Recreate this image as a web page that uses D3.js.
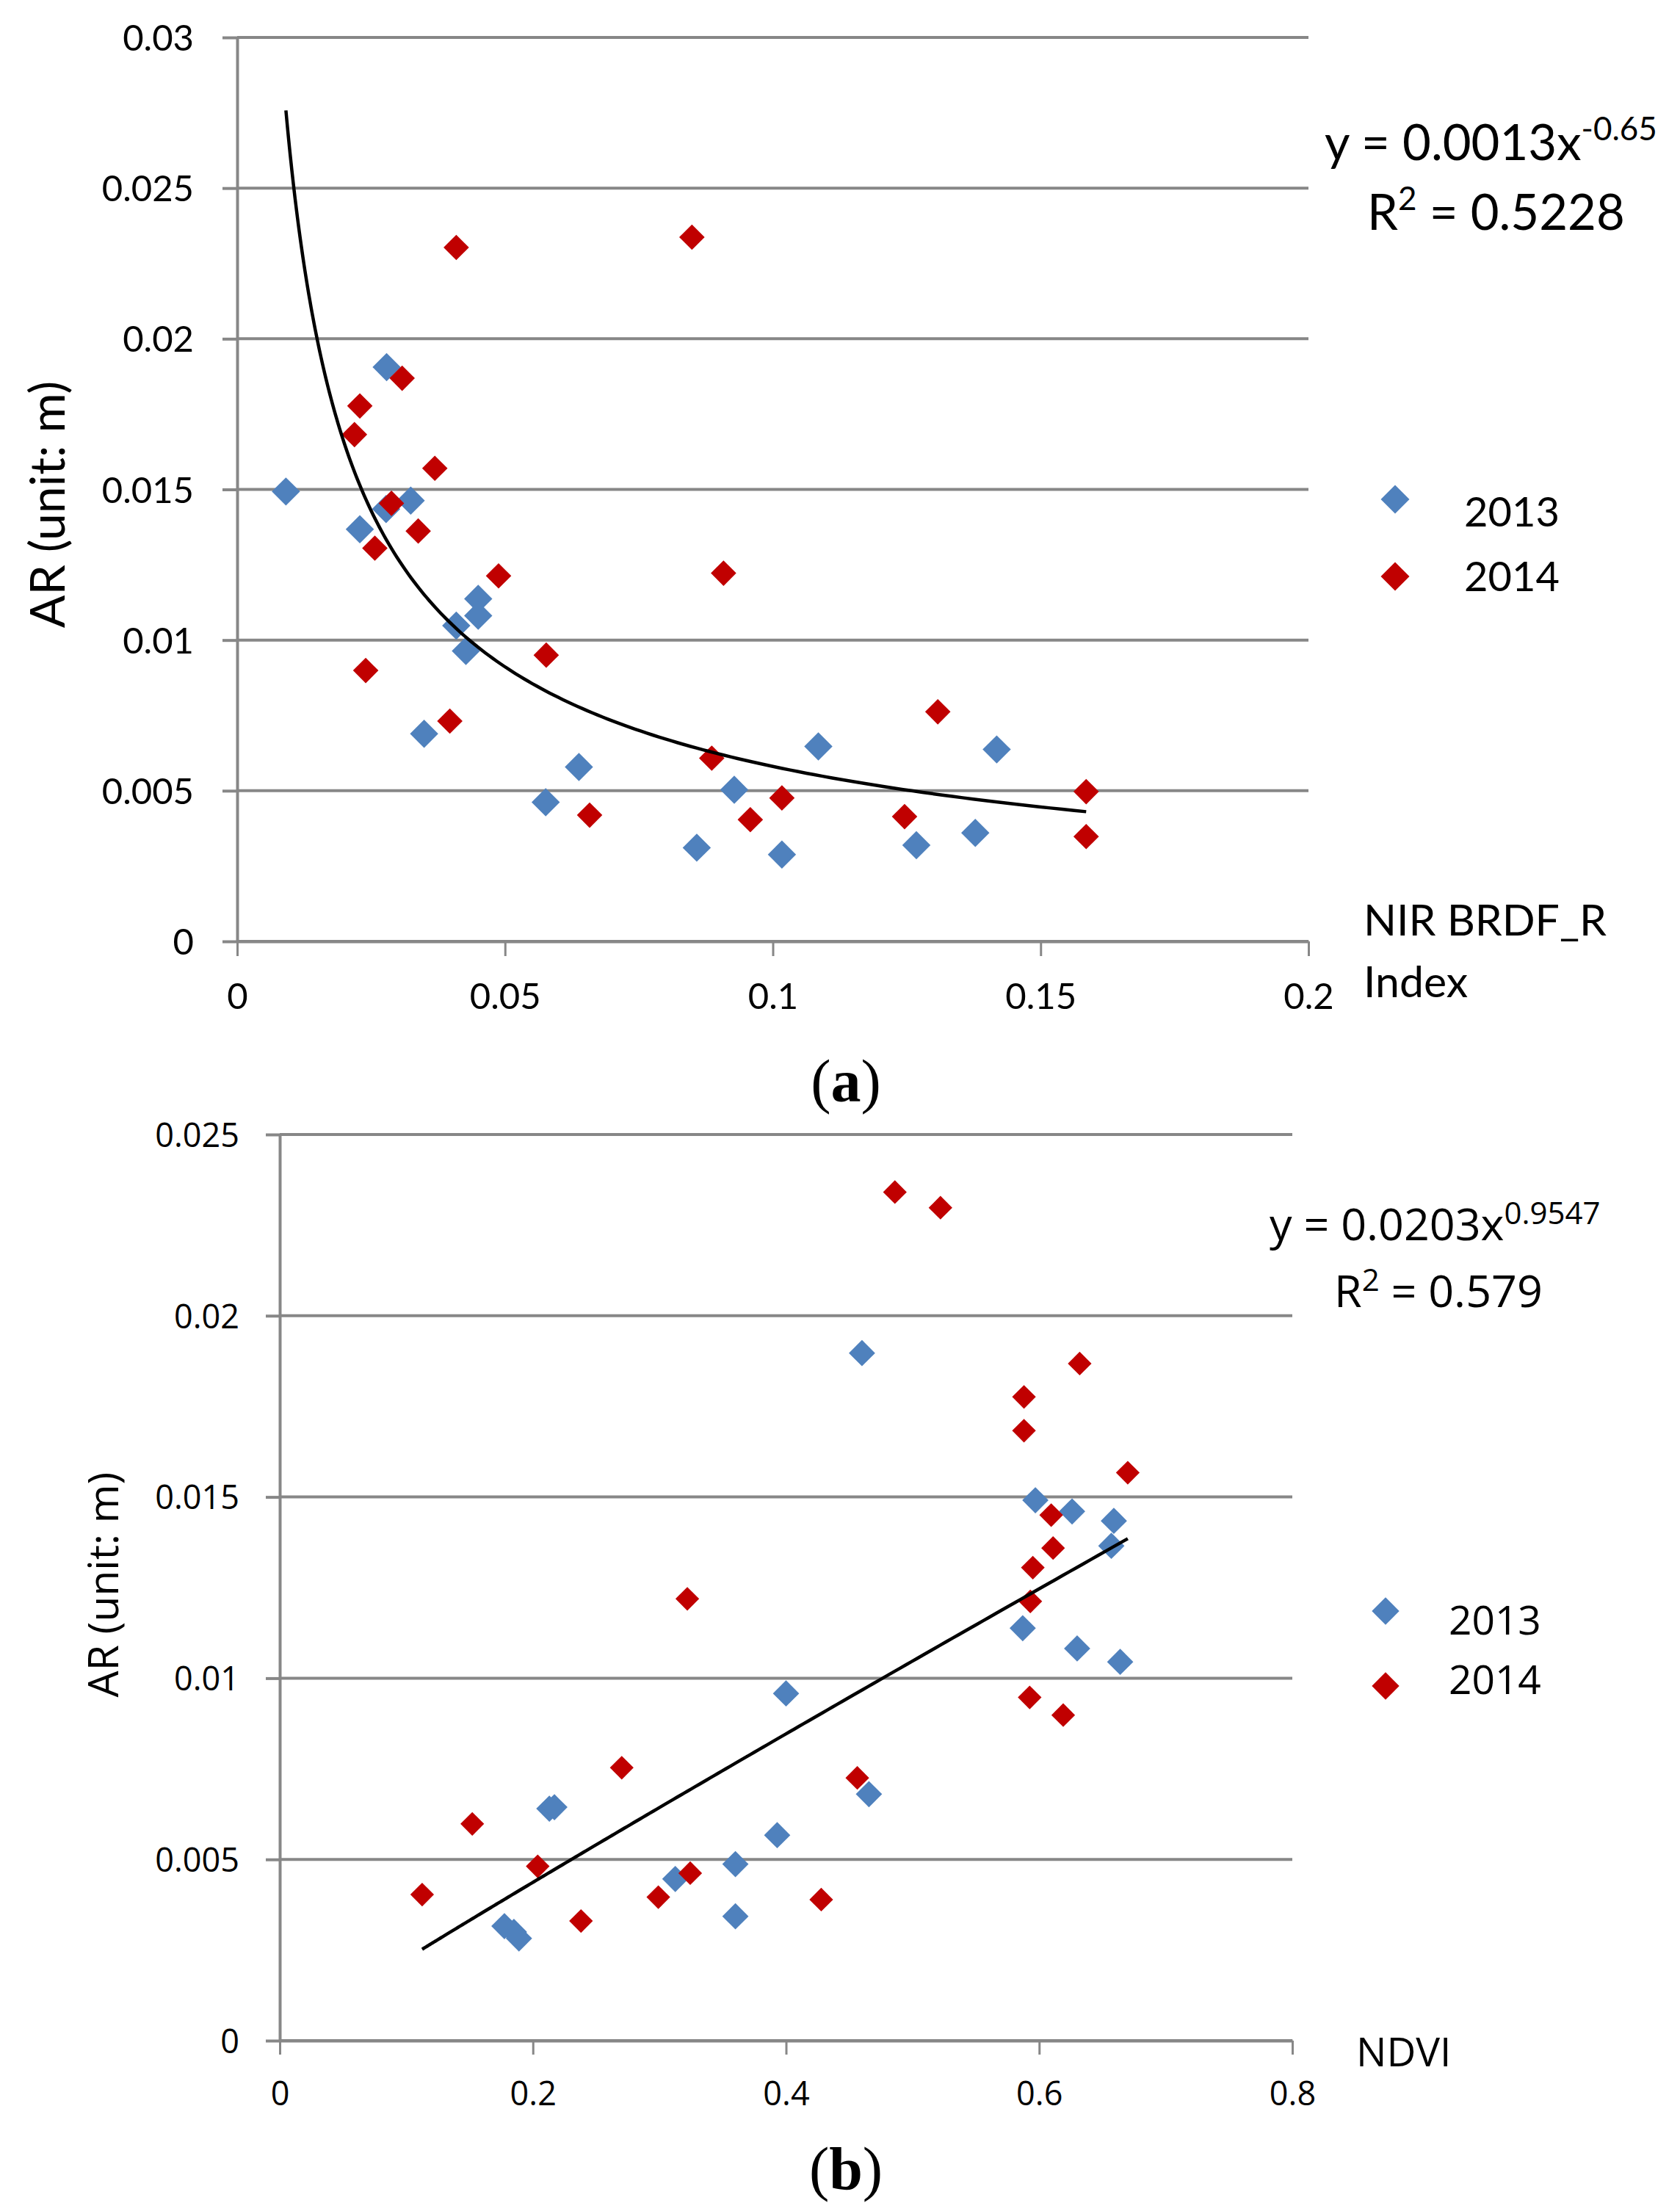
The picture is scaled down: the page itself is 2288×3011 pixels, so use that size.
<!DOCTYPE html>
<html>
<head>
<meta charset="utf-8">
<script src="https://cdn.jsdelivr.net/npm/d3@7"></script>
<style>
  html, body { margin: 0; padding: 0; background: #fff; }
</style>
</head>
<body>
<script>
// ---- data ----
const seriesNames = ['2013', '2014'];

// panel (a): NIR BRDF_R index vs AR
const nir2013 = [
  [0.0091, 0.01493], [0.0279, 0.01906], [0.0229, 0.01368], [0.0278, 0.01435],
  [0.0324, 0.01463], [0.0349, 0.00689], [0.0409, 0.01048], [0.0427, 0.00964],
  [0.0450, 0.01137], [0.0450, 0.01081], [0.0576, 0.00462], [0.0638, 0.00579],
  [0.0858, 0.00311], [0.0928, 0.00503], [0.1017, 0.00288], [0.1085, 0.00647],
  [0.1268, 0.00319], [0.1378, 0.00360], [0.1418, 0.00637]
];
const nir2014 = [
  [0.0409, 0.02303], [0.0849, 0.02337], [0.0308, 0.01869], [0.0229, 0.01777],
  [0.0219, 0.01682], [0.0369, 0.01570], [0.0288, 0.01454], [0.0338, 0.01362],
  [0.0257, 0.01305], [0.0488, 0.01213], [0.0908, 0.01222], [0.0240, 0.00899],
  [0.0577, 0.00950], [0.0397, 0.00731], [0.0886, 0.00608], [0.0658, 0.00419],
  [0.0958, 0.00404], [0.1017, 0.00476], [0.1308, 0.00762], [0.1246, 0.00414],
  [0.1585, 0.00497], [0.1585, 0.00348]
];

// panel (b): NDVI vs AR
const ndvi2013 = [
  [0.460, 0.01897], [0.597, 0.01491], [0.626, 0.01460], [0.659, 0.01434],
  [0.657, 0.01365], [0.587, 0.01138], [0.630, 0.01082], [0.664, 0.01045],
  [0.400, 0.00958], [0.4655, 0.00680], [0.213, 0.00640], [0.217, 0.00644],
  [0.393, 0.00567], [0.360, 0.00487], [0.3125, 0.00446], [0.360, 0.00343],
  [0.1775, 0.00316], [0.185, 0.00300], [0.189, 0.00282]
];
const ndvi2014 = [
  [0.486, 0.02341], [0.522, 0.02298], [0.632, 0.01868], [0.588, 0.01776],
  [0.588, 0.01683], [0.670, 0.01567], [0.6095, 0.01450], [0.611, 0.01359],
  [0.595, 0.01305], [0.593, 0.01212], [0.322, 0.01219], [0.5925, 0.00947],
  [0.619, 0.00898], [0.2702, 0.00753], [0.4563, 0.00725], [0.1521, 0.00598],
  [0.2038, 0.00481], [0.3243, 0.00462], [0.1125, 0.00403], [0.2991, 0.00396],
  [0.4278, 0.00389], [0.238, 0.00330]
];

// power trendlines  y = a * x^b  (as printed on the chart)
const fitA = { a: 0.0013, b: -0.65, eq: 'y = 0.0013x', exp: '-0.65', r2: ' = 0.5228' };
const fitB = { a: 0.0203, b: 0.9547, eq: 'y = 0.0203x', exp: '0.9547', r2: ' = 0.579' };

// axis ticks
const xTicksA = [0, 0.05, 0.1, 0.15, 0.2];
const xLabelsA = ['0', '0.05', '0.1', '0.15', '0.2'];
const yTicksA = [0, 0.005, 0.01, 0.015, 0.02, 0.025, 0.03];
const yLabelsA = ['0', '0.005', '0.01', '0.015', '0.02', '0.025', '0.03'];
const xTicksB = [0, 0.2, 0.4, 0.6, 0.8];
const xLabelsB = ['0', '0.2', '0.4', '0.6', '0.8'];
const yTicksB = [0, 0.005, 0.01, 0.015, 0.02, 0.025];
const yLabelsB = ['0', '0.005', '0.01', '0.015', '0.02', '0.025'];

// ---- styles ----
const BLUE = '#4f81bd';
const RED = '#c00000';
const GRID = '#878787';

const svg = d3.select('body')
  .append('svg')
  .attr('width', 2288)
  .attr('height', 3011)
  .style('display', 'block');

svg.append('rect')
  .attr('width', 2288)
  .attr('height', 3011)
  .attr('fill', '#fff');

function drawPanel(p) {
  const g = svg.append('g');
  const x = d3.scaleLinear().domain(p.xDomain).range(p.xRange);
  const y = d3.scaleLinear().domain(p.yDomain).range(p.yRange);

  // horizontal gridlines
  g.selectAll('.grid')
    .data(p.yTicks)
    .enter()
    .append('line')
    .attr('x1', p.xRange[0])
    .attr('x2', p.xRange[1])
    .attr('y1', d => y(d))
    .attr('y2', d => y(d))
    .attr('stroke', GRID)
    .attr('stroke-width', 4);

  // y axis
  const yAxis = d3.axisLeft(y)
    .tickValues(p.yTicks)
    .tickFormat((d, i) => p.yLabels[i])
    .tickSize(p.tick)
    .tickSizeOuter(0)
    .tickPadding(p.yPad);

  const ya = g.append('g')
    .attr('transform', `translate(${p.xRange[0]},0)`)
    .call(yAxis);
  ya.select('.domain').attr('stroke', GRID).attr('stroke-width', 4);
  ya.selectAll('.tick line').attr('stroke', GRID).attr('stroke-width', 4);
  ya.selectAll('.tick text')
    .attr('dy', '0.36em')
    .style('font-family', p.font)
    .style('font-size', p.tickFont + 'px')
    .attr('fill', '#000');

  // x axis
  const xAxis = d3.axisBottom(x)
    .tickValues(p.xTicks)
    .tickFormat((d, i) => p.xLabels[i])
    .tickSize(p.tick)
    .tickSizeOuter(0);

  const xa = g.append('g')
    .attr('transform', `translate(0,${p.yRange[0]})`)
    .call(xAxis);
  xa.select('.domain').attr('stroke', GRID).attr('stroke-width', 4);
  xa.selectAll('.tick line').attr('stroke', GRID).attr('stroke-width', 3);
  xa.selectAll('.tick text')
    .attr('y', p.xLabelDrop)
    .attr('dy', null)
    .style('font-family', p.font)
    .style('font-size', p.tickFont + 'px')
    .attr('fill', '#000');

  // markers: 2013 first, 2014 on top
  const series = [
    { data: p.s2013, color: BLUE, size: p.blueSize },
    { data: p.s2014, color: RED, size: p.redSize }
  ];
  series.forEach(s => {
    g.append('g')
      .selectAll('path')
      .data(s.data)
      .enter()
      .append('path')
      .attr('d', d3.symbol(d3.symbolSquare, s.size))
      .attr('transform', d => `translate(${x(d[0])},${y(d[1])}) rotate(45)`)
      .attr('fill', s.color);
  });

  // power trendline over the range of the data
  const all = p.s2013.concat(p.s2014);
  const [xmin, xmax] = d3.extent(all, d => d[0]);
  const n = 200;
  const xs = d3.range(n + 1).map(i => xmin * Math.pow(xmax / xmin, i / n));
  const line = d3.line()
    .x(d => x(d))
    .y(d => y(p.fit.a * Math.pow(d, p.fit.b)));
  g.append('path')
    .datum(xs)
    .attr('d', line)
    .attr('fill', 'none')
    .attr('stroke', '#000')
    .attr('stroke-width', 4.5);

  // equation + R²
  const eq = g.append('text')
    .attr('x', p.eqX)
    .attr('y', p.eqY)
    .style('font-family', p.font)
    .style('font-size', p.eqFont + 'px')
    .attr('fill', '#000');
  eq.append('tspan').text(p.fit.eq);
  eq.append('tspan')
    .attr('dy', -p.supShift)
    .style('font-size', p.supFont + 'px')
    .text(p.fit.exp);

  const r2 = g.append('text')
    .attr('x', p.r2X)
    .attr('y', p.r2Y)
    .style('font-family', p.font)
    .style('font-size', p.eqFont + 'px')
    .attr('fill', '#000');
  r2.append('tspan').text('R');
  r2.append('tspan')
    .attr('dy', -p.supShift)
    .style('font-size', p.supFont + 'px')
    .text('2');
  r2.append('tspan')
    .attr('dy', p.supShift)
    .text(p.fit.r2);

  // legend
  const legColors = [BLUE, RED];
  seriesNames.forEach((name, i) => {
    g.append('path')
      .attr('d', d3.symbol(d3.symbolSquare, p.legSize))
      .attr('transform', `translate(${p.legMarkX},${p.legMarkY[i]}) rotate(45)`)
      .attr('fill', legColors[i]);
    g.append('text')
      .attr('x', p.legTextX)
      .attr('y', p.legTextY[i])
      .style('font-family', p.font)
      .style('font-size', p.legFont + 'px')
      .attr('fill', '#000')
      .text(name);
  });

  // axis titles
  p.xTitle.forEach((t, i) => {
    g.append('text')
      .attr('x', p.xTitleX)
      .attr('y', p.xTitleY[i])
      .style('font-family', p.font)
      .style('font-size', p.xTitleFont + 'px')
      .attr('fill', '#000')
      .text(t);
  });

  g.append('text')
    .attr('transform', `translate(${p.yTitleX},${p.yTitleY}) rotate(-90)`)
    .attr('text-anchor', 'middle')
    .style('font-family', p.font)
    .style('font-size', p.yTitleFont + 'px')
    .attr('fill', '#000')
    .text('AR (unit: m)');

  // panel letter
  const lab = g.append('text')
    .attr('x', 1152)
    .attr('y', p.letterY)
    .attr('text-anchor', 'middle')
    .style('font-family', '"Liberation Serif", "DejaVu Serif", serif')
    .style('font-size', '82px')
    .attr('fill', '#000');
  lab.append('tspan').text('(');
  lab.append('tspan').style('font-weight', 'bold').text(p.letter);
  lab.append('tspan').text(')');
}

drawPanel({
  xDomain: [0, 0.2], xRange: [323, 1782],
  yDomain: [0, 0.03], yRange: [1282, 51],
  xTicks: xTicksA, xLabels: xLabelsA, yTicks: yTicksA, yLabels: yLabelsA,
  s2013: nir2013, s2014: nir2014, fit: fitA,
  font: 'Lato, "Open Sans", sans-serif',
  tick: 20, yPad: 39, tickFont: 49, xLabelDrop: 92,
  blueSize: 740, redSize: 600,
  eqX: 1804, eqY: 218, r2X: 1862, r2Y: 313, eqFont: 67, supFont: 44, supShift: 27,
  legMarkX: 1900, legMarkY: [680, 785], legTextX: 1994, legTextY: [717, 805],
  legSize: 760, legFont: 56,
  xTitle: ['NIR BRDF_R', 'Index'], xTitleX: 1857, xTitleY: [1274, 1358], xTitleFont: 59,
  yTitleX: 88, yTitleY: 687, yTitleFont: 66,
  letter: 'a', letterY: 1500
});

drawPanel({
  xDomain: [0, 0.8], xRange: [381, 1760],
  yDomain: [0, 0.025], yRange: [2779, 1545],
  xTicks: xTicksB, xLabels: xLabelsB, yTicks: yTicksB, yLabels: yLabelsB,
  s2013: ndvi2013, s2014: ndvi2014, fit: fitB,
  font: '"Open Sans", "Noto Sans", sans-serif',
  tick: 19, yPad: 36, tickFont: 45, xLabelDrop: 88,
  blueSize: 640, redSize: 520,
  eqX: 1729, eqY: 1689, r2X: 1817, r2Y: 1780, eqFont: 61, supFont: 42, supShift: 22,
  legMarkX: 1887, legMarkY: [2194, 2296], legTextX: 1973, legTextY: [2226, 2307],
  legSize: 700, legFont: 55,
  xTitle: ['NDVI'], xTitleX: 1847, xTitleY: [2814], xTitleFont: 55,
  yTitleX: 161, yTitleY: 2158, yTitleFont: 57,
  letter: 'b', letterY: 2981
});
</script>
</body>
</html>
